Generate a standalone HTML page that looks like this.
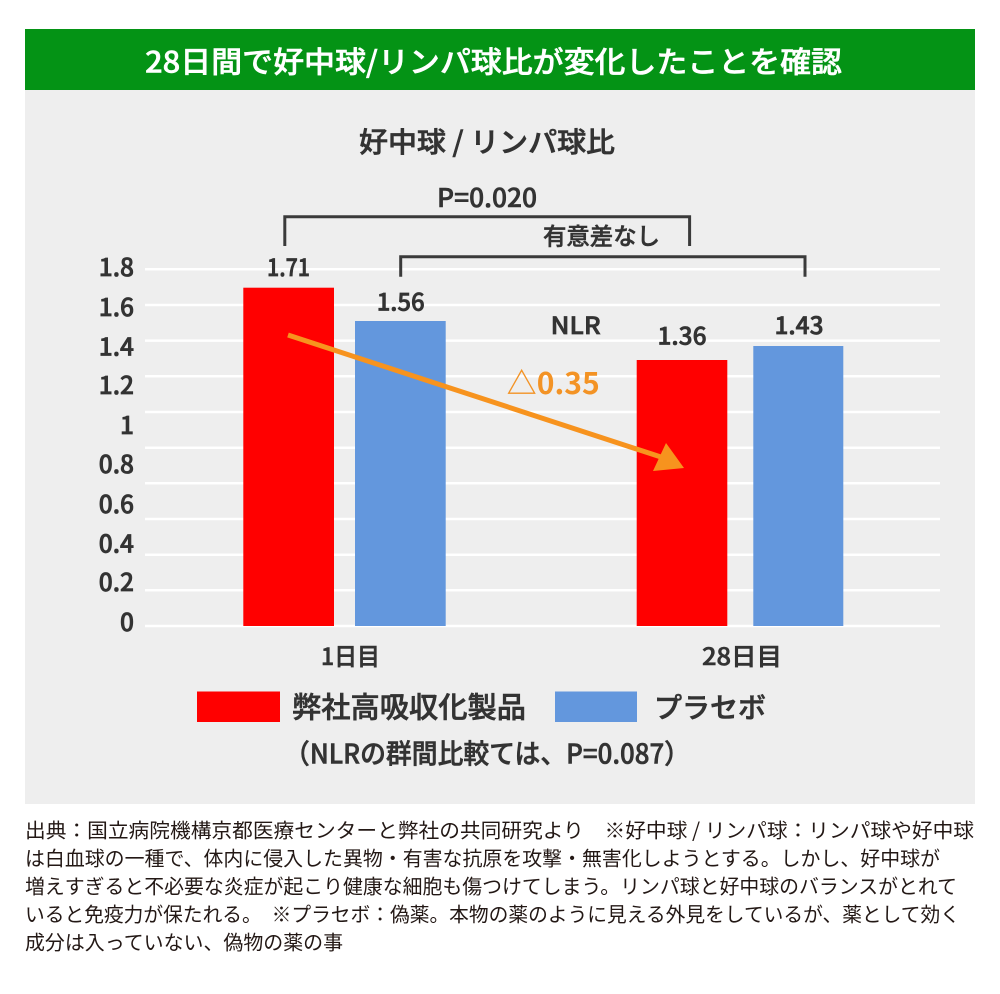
<!DOCTYPE html>
<html lang="ja">
<head>
<meta charset="utf-8">
<style>
html,body{margin:0;padding:0;background:#fff;}
body{width:1000px;height:994px;position:relative;overflow:hidden;}
svg{position:absolute;left:0;top:0;}
text{font-family:"Liberation Sans","Noto Sans CJK JP",sans-serif;}
.j{font-family:"Noto Sans CJK JP","Liberation Sans",sans-serif;}
</style>
</head>
<body>
<svg width="1000" height="994" viewBox="0 0 1000 994" xmlns="http://www.w3.org/2000/svg">
  <!-- header -->
  <rect x="25" y="29" width="950" height="61" fill="#049315"/>
  <rect x="25" y="90" width="950" height="714" fill="#eeeeee"/>
  <text class="j" x="145" y="72.5" font-size="29.5" font-weight="500" fill="#ffffff" stroke="#ffffff" stroke-width="0.5" textLength="697" lengthAdjust="spacingAndGlyphs">28日間で好中球/リンパ球比が変化したことを確認</text>

  <!-- chart title -->
  <text class="j" x="359" y="152" font-size="28" font-weight="500" fill="#333" stroke="#333" stroke-width="0.6" textLength="256" lengthAdjust="spacingAndGlyphs">好中球 / リンパ球比</text>

  <!-- gridlines -->
  <g stroke="#ffffff" stroke-width="2.5">
    <line x1="145" x2="940" y1="269.3" y2="269.3"/>
    <line x1="145" x2="940" y1="305.0" y2="305.0"/>
    <line x1="145" x2="940" y1="340.6" y2="340.6"/>
    <line x1="145" x2="940" y1="376.3" y2="376.3"/>
    <line x1="145" x2="940" y1="412.0" y2="412.0"/>
    <line x1="145" x2="940" y1="447.7" y2="447.7"/>
    <line x1="145" x2="940" y1="483.3" y2="483.3"/>
    <line x1="145" x2="940" y1="519.0" y2="519.0"/>
    <line x1="145" x2="940" y1="554.7" y2="554.7"/>
    <line x1="145" x2="940" y1="590.3" y2="590.3"/>
    <line x1="145" x2="940" y1="626.0" y2="626.0"/>
  </g>

  <!-- y labels -->
  <g class="j" font-size="24.5" font-weight="500" fill="#333" stroke="#333" stroke-width="0.7" text-anchor="end">
    <text class="j" x="134" y="276.1">1.8</text>
    <text class="j" x="134" y="316.1">1.6</text>
    <text class="j" x="134" y="355.5">1.4</text>
    <text class="j" x="134" y="394.1">1.2</text>
    <text class="j" x="134" y="434.1">1</text>
    <text class="j" x="134" y="472.8">0.8</text>
    <text class="j" x="134" y="512.8">0.6</text>
    <text class="j" x="134" y="552.5">0.4</text>
    <text class="j" x="134" y="590.8">0.2</text>
    <text class="j" x="134" y="630.8">0</text>
  </g>

  <!-- bars -->
  <rect x="243.3" y="287.7" width="90.7" height="338.3" fill="#ff0000"/>
  <rect x="355" y="321" width="90.7" height="305" fill="#6397dd"/>
  <rect x="636.7" y="360" width="90.6" height="266" fill="#ff0000"/>
  <rect x="753.3" y="346" width="90" height="280" fill="#6397dd"/>

  <!-- brackets -->
  <path d="M284.8,246 V216.7 H689.6 V246" fill="none" stroke="#3a3a3a" stroke-width="3"/>
  <path d="M400.7,276.7 V256.7 H805 V276.7" fill="none" stroke="#3a3a3a" stroke-width="3"/>
  <text class="j" x="437" y="206.9" font-size="26" font-weight="500" fill="#333" stroke="#333" stroke-width="0.6" textLength="100" lengthAdjust="spacingAndGlyphs">P=0.020</text>
  <text class="j" x="543" y="244.5" font-size="23.5" font-weight="500" fill="#333" stroke="#333" stroke-width="0.5" textLength="117" lengthAdjust="spacingAndGlyphs">有意差なし</text>

  <!-- data labels -->
  <g class="j" font-size="24" font-weight="500" fill="#333" stroke="#333" stroke-width="0.7" text-anchor="middle">
    <text class="j" x="288.5" y="276.1" textLength="43" lengthAdjust="spacingAndGlyphs">1.71</text>
    <text class="j" x="400.7" y="310.3" textLength="48" lengthAdjust="spacingAndGlyphs">1.56</text>
    <text class="j" x="682" y="344.3" textLength="49" lengthAdjust="spacingAndGlyphs">1.36</text>
    <text class="j" x="799" y="334.1" textLength="49" lengthAdjust="spacingAndGlyphs">1.43</text>
    <text class="j" x="575.7" y="334.1" textLength="50" lengthAdjust="spacingAndGlyphs">NLR</text>
  </g>

  <!-- arrow -->
  <line x1="288" y1="335" x2="664" y2="458" stroke="#f7931e" stroke-width="5"/>
  <polygon points="666,443 684,468 653,471" fill="#f7931e"/>
  <text class="j" x="506.7" y="394" font-size="30" font-weight="700" fill="#f39325" textLength="93" lengthAdjust="spacingAndGlyphs">△0.35</text>

  <!-- category labels -->
  <text class="j" x="321" y="665" font-size="24" font-weight="500" fill="#333" stroke="#333" stroke-width="0.6" textLength="59" lengthAdjust="spacingAndGlyphs">1日目</text>
  <text class="j" x="702" y="665" font-size="24" font-weight="500" fill="#333" stroke="#333" stroke-width="0.6" textLength="80" lengthAdjust="spacingAndGlyphs">28日目</text>

  <!-- legend -->
  <rect x="197" y="691.5" width="83" height="30.5" fill="#ff0000"/>
  <rect x="555" y="691.5" width="82" height="30.5" fill="#6397dd"/>
  <text class="j" x="292" y="717.5" font-size="29" font-weight="500" fill="#333" stroke="#333" stroke-width="0.6" textLength="234" lengthAdjust="spacingAndGlyphs">弊社高吸収化製品</text>
  <text class="j" x="654" y="717.5" font-size="28" font-weight="500" fill="#333" stroke="#333" stroke-width="0.6" textLength="112" lengthAdjust="spacingAndGlyphs">プラセボ</text>
  <text class="j" x="284" y="763.3" font-size="27" font-weight="500" fill="#333" stroke="#333" stroke-width="0.6" textLength="406" lengthAdjust="spacingAndGlyphs">（NLRの群間比較ては、P=0.087）</text>

  <!-- footnote -->
  <g class="j" font-size="20" fill="#231815">
    <text class="j" x="25" y="837.6" textLength="949" lengthAdjust="spacingAndGlyphs">出典：国立病院機構京都医療センターと弊社の共同研究より　※好中球 / リンパ球：リンパ球や好中球</text>
    <text class="j" x="25" y="865.6" textLength="915" lengthAdjust="spacingAndGlyphs">は白血球の一種で、体内に侵入した異物・有害な抗原を攻撃・無害化しようとする。しかし、好中球が</text>
    <text class="j" x="25" y="893.6" textLength="932" lengthAdjust="spacingAndGlyphs">増えすぎると不必要な炎症が起こり健康な細胞も傷つけてしまう。リンパ球と好中球のバランスがとれて</text>
    <text class="j" x="25" y="921.6" textLength="935" lengthAdjust="spacingAndGlyphs">いると免疫力が保たれる。　※プラセボ：偽薬。本物の薬のように見える外見をしているが、薬として効く</text>
    <text class="j" x="25" y="949.6" textLength="318" lengthAdjust="spacingAndGlyphs">成分は入っていない、偽物の薬の事</text>
  </g>
</svg>
</body>
</html>
